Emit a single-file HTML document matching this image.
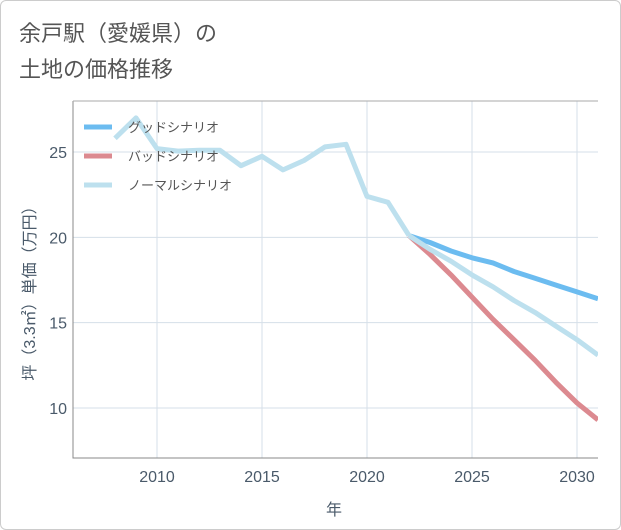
<!DOCTYPE html>
<html><head><meta charset="utf-8"><style>
body{margin:0;background:#fff;font-family:"Liberation Sans","Noto Sans CJK JP",sans-serif;}
#wrap{position:relative;width:619px;height:528px;border:1px solid #ccc;border-radius:6px;overflow:hidden;background:#fff}
</style></head><body>
<div id="wrap">
<svg id="chart" width="621" height="530"></svg>
</div>
<script>
const years=[2008,2009,2010,2011,2012,2013,2014,2015,2016,2017,2018,2019,2020,2021,2022];
const hist=[25.8,27.0,25.2,25.05,25.1,25.1,24.2,24.75,23.95,24.5,25.3,25.45,22.4,22.05,20.1];
const fYears=[2022,2023,2024,2025,2026,2027,2028,2029,2030,2031];
const good=[20.1,19.7,19.2,18.8,18.5,18.0,17.6,17.2,16.8,16.4];
const bad=[20.1,19.0,17.8,16.5,15.2,14.0,12.8,11.5,10.3,9.3];
const normal=[20.1,19.3,18.6,17.8,17.1,16.3,15.6,14.8,14.0,13.1];
const xTicks=[2010,2015,2020,2025,2030];
const yTicks=[10,15,20,25];
const ns="http://www.w3.org/2000/svg";
const svg=document.getElementById('chart');
const L=72,R=597,T=100,B=457;
const X=y=>L+(y-2006)*(R-L)/25;
const Y=v=>151+(25-v)*(407-151)/15;
function mk(t,a,p){const e=document.createElementNS(ns,t);for(const k in a)e.setAttribute(k,a[k]);(p||svg).appendChild(e);return e;}
const title=mk('text',{x:18,y:40,'font-size':22,fill:'#555'});title.textContent='余戸駅（愛媛県）の';


const t2=mk('text',{x:18,y:76,'font-size':22,fill:'#555'});t2.textContent='土地の価格推移';


const clip=mk('clipPath',{id:'cp'});mk('rect',{x:L,y:T,width:R-L,height:B-T},clip);
xTicks.forEach(t=>{const g=mk('line',{x1:X(t),x2:X(t),y1:T,y2:B,stroke:'#d5dfe8','stroke-width':1});


const l=mk('text',{x:X(t),y:481,'font-size':16,fill:'#4a5a6a','text-anchor':'middle'});l.textContent=t;

});
yTicks.forEach(t=>{const g=mk('line',{x1:L,x2:R,y1:Y(t),y2:Y(t),stroke:'#d5dfe8','stroke-width':1});


const l=mk('text',{x:L-6,y:Y(t)+6,'font-size':16,fill:'#4a5a6a','text-anchor':'end'});l.textContent=t;

});
const ax=mk('path',{d:`M${L},${T}V${B}H${R}`,fill:'none',stroke:'#888','stroke-width':1});


mk('line',{x1:L,x2:R,y1:T,y2:T,stroke:'#aaa','stroke-width':1});
const xt=mk('text',{x:333,y:514,'font-size':16,fill:'#4a5a6a','text-anchor':'middle'});xt.textContent='年';


const yt=mk('text',{x:0,y:0,'font-size':16,fill:'#4a5a6a','text-anchor':'middle',transform:`translate(34,${(T+B)/2+10}) rotate(-90)`});yt.textContent='坪（3.3㎡）単価（万円）';


function line(xs,vs,c,name){const d=xs.map((x,i)=>(i?'L':'M')+X(x).toFixed(1)+','+Y(vs[i]).toFixed(1)).join('');
const p=mk('path',{d,fill:'none',stroke:c,'stroke-width':5,'stroke-linejoin':'round','clip-path':'url(#cp)'});

}
line(fYears,good,'#6cbcf0','good-scenario-line');
line(fYears,bad,'#dc8a90','bad-scenario-line');
line(fYears,normal,'#bde0ee','normal-scenario-line');
line(years,hist,'#bde0ee','historical-line');
[['グッドシナリオ','#6cbcf0'],['バッドシナリオ','#dc8a90'],['ノーマルシナリオ','#bde0ee']].forEach((e,i)=>{
const y=126+i*29;
const s=mk('line',{x1:83,x2:111,y1:y,y2:y,stroke:e[1],'stroke-width':5});


const t=mk('text',{x:127,y:y+5,'font-size':13,fill:'#555'});t.textContent=e[0];

});
</script>
</body></html>
